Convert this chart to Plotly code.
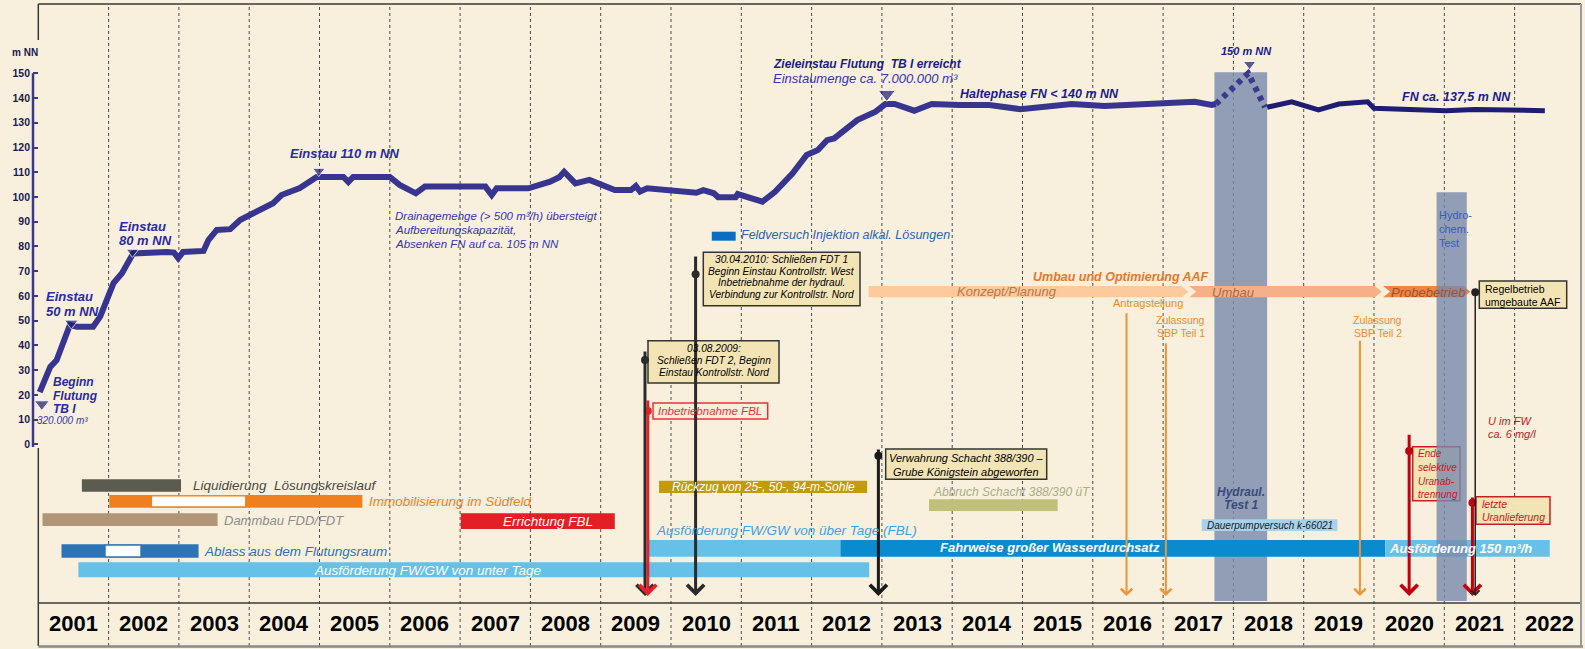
import plotly.graph_objects as go

# ---------------------------------------------------------------------------
# values (time in decimal years, level in m NN)
# ---------------------------------------------------------------------------
years = list(range(2001, 2023))
level_ticks = list(range(0, 151, 10))

# flooding level, Jan 2001 .. start of hydraulic test 1
level_t = [2001.02, 2001.17, 2001.26, 2001.45, 2001.55, 2001.78, 2001.88, 2001.97, 2002.07, 2002.19,
           2002.26, 2002.35, 2002.83, 2002.93, 2002.99, 2003.06, 2003.35, 2003.42, 2003.54, 2003.73,
           2003.87, 2004.06, 2004.34, 2004.46, 2004.72, 2004.96, 2005.34, 2005.41, 2005.48, 2006.00,
           2006.14, 2006.37, 2006.50, 2007.36, 2007.45, 2007.52, 2007.97, 2008.28, 2008.41, 2008.48,
           2008.64, 2008.74, 2008.84, 2009.20, 2009.43, 2009.50, 2009.56, 2009.66, 2010.36, 2010.46,
           2010.61, 2010.67, 2010.92, 2010.95, 2011.30, 2011.48, 2011.73, 2011.93, 2012.09, 2012.22,
           2012.32, 2012.65, 2012.91, 2013.05, 2013.18, 2013.46, 2013.71, 2014.11, 2014.53, 2014.97,
           2015.70, 2016.17, 2016.99, 2017.45, 2017.69, 2017.75]
level_v = [21.1, 31.3, 34.0, 48.3, 47.5, 47.5, 51.6, 58.4, 65.2, 69.2,
           73.2, 77.2, 77.8, 77.5, 75.3, 77.8, 78.2, 82.6, 86.7, 87.0,
           90.7, 93.5, 97.5, 100.8, 103.6, 108.1, 108.1, 106.1, 108.1, 108.1,
           104.9, 101.5, 104.2, 104.2, 100.8, 103.5, 103.5, 106.2, 108.0, 110.2,
           105.5, 106.2, 106.9, 102.8, 102.8, 104.4, 102.2, 103.5, 101.7, 102.8,
           101.5, 99.9, 99.9, 101.2, 98.1, 102.1, 109.6, 117.0, 119.0, 123.0,
           123.7, 131.1, 134.5, 137.6, 137.6, 134.9, 137.6, 137.2, 137.2, 135.5,
           137.6, 136.8, 137.9, 138.5, 137.2, 137.6]

# hydraulic test 1 (dotted, up to 150 m NN)
test_t = [2017.75, 2018.21, 2018.45]
test_v = [137.6, 150.0, 136.3]

# after the test: FN ca. 137,5 m NN
late_t = [2018.48, 2018.83, 2019.21, 2019.50, 2019.91, 2020.00, 2021.02, 2021.43, 2022.43]
late_v = [136.3, 138.5, 135.2, 137.6, 138.5, 135.9, 134.9, 135.4, 134.9]

# milestones on the curve (triangles)
mile_t = [2001.05, 2001.47, 2002.34, 2004.99, 2013.07, 2018.23]
mile_v = [16.3, 49.0, 77.8, 110.5, 141.6, 153.7]

# measures (start / end)
bar_names = ["Liquidierung", "Immobilisierung", "Dammbau", "Errichtung FBL", "Ablass",
             "Ausförderung unter Tage", "Rückzug", "Abbruch", "Ausförderung über Tage",
             "Fahrweise", "Ausförderung 150", "Dauerpumpversuch", "Feldversuch"]
bar_start = [2001.62, 2002.01, 2001.06, 2007.01, 2001.33, 2001.57, 2009.83, 2013.67, 2009.68,
             2012.41, 2020.16, 2017.55, 2010.58]
bar_end = [2003.03, 2005.61, 2003.55, 2009.20, 2003.28, 2012.82, 2012.79, 2015.50, 2012.41,
           2020.16, 2022.50, 2019.48, 2010.92]

# interruptions drawn hollow
gap_names = ["Immobilisierung", "Ablass"]
gap_start = [2002.61, 2001.95]
gap_end = [2003.95, 2002.46]

# phases "Umbau und Optimierung AAF"
phase_names = ["Konzept/Planung", "Umbau", "Probebetrieb"]
phase_start = [2012.81, 2017.37, 2020.13]
phase_end = [2017.36, 2020.11, 2021.37]

# test periods (shaded columns)
test_names = ["Hydraul. Test 1", "Hydrochem. Test"]
test_start = [2017.73, 2020.89]
test_end = [2018.48, 2021.32]

# single events (vertical arrows)
event_names = ["03.08.2009", "Inbetriebnahme FBL", "30.04.2010", "Verwahrung Schacht",
               "Antragstellung", "Zulassung SBP Teil 1", "Zulassung SBP Teil 2",
               "Ende selektive Uranabtrennung", "letzte Uranlieferung", "Regelbetrieb"]
event_t = [2009.63, 2009.67, 2010.35, 2012.95, 2016.48, 2017.04, 2019.80, 2020.50, 2021.40, 2021.44]

# ---------------------------------------------------------------------------
# layout helpers: the lower part of the chart is a free layout measured in px
# ---------------------------------------------------------------------------
W, H, L = 1585, 649, 33
X0, KX = 38.3, 70.3      # px of 1.1.2001, px per year
Y0, KY = 444.3, 2.473    # px of 0 m NN, px per metre

def xp(px):
    return 2001 + (px - X0) / KX

def yp(py):
    return (Y0 - py) / KY

BG = "#F8F0DD"
SANS = "Liberation Sans, Arial, sans-serif"
NAVY = "#1A1A52"
BLUE = "#2A2AA2"
BLUE2 = "#3535AE"
ORANGE = "#EE8A2E"
RED = "#D0141E"

shapes = []
ann = []

def rect(x0, x1, py0, py1, fill, line=None, lw=0, layer="below", opacity=1.0):
    shapes.append(dict(type="rect", xref="x", yref="y", x0=x0, x1=x1, y0=yp(py1), y1=yp(py0),
                       fillcolor=fill, line=dict(width=lw, color=line or fill),
                       layer=layer, opacity=opacity))

def hline(px0, px1, py, color, w):
    shapes.append(dict(type="line", xref="x", yref="y", x0=xp(px0), x1=xp(px1), y0=yp(py), y1=yp(py),
                       line=dict(color=color, width=w), layer="below"))

def vline(px, py0, py1, color, w):
    shapes.append(dict(type="line", xref="x", yref="y", x0=xp(px), x1=xp(px), y0=yp(py0), y1=yp(py1),
                       line=dict(color=color, width=w), layer="below"))

def label(px, py, text, size, color, anchor="left", bold=False, italic=True):
    ann.append(dict(x=xp(px), y=yp(py), xref="x", yref="y", text=text, showarrow=False,
                    xanchor=anchor, yanchor="middle",
                    font=dict(family=SANS, size=size, color=color,
                              weight="bold" if bold else "normal",
                              style="italic" if italic else "normal")))

# year grid
for y in years[1:]:
    shapes.append(dict(type="line", xref="x", yref="y", x0=y, x1=y, y0=yp(646), y1=yp(4),
                       line=dict(color="#4A4A4A", width=1, dash="dot"), layer="below"))

# hydraulic test 1 column (under the level curve)
rect(test_start[0], test_end[0], 72.3, 601, "rgb(120,138,172)", opacity=0.8)

# measures
bar_style = {
    "Liquidierung": ((479.3, 491.7), "#5B5B50"),
    "Immobilisierung": ((495.0, 507.7), "#F0801E"),
    "Dammbau": ((513.3, 526.0), "#B09676"),
    "Errichtung FBL": ((513.3, 529.0), "#E31E24"),
    "Ablass": ((544.3, 557.7), "#2E74B5"),
    "Ausförderung unter Tage": ((562.3, 577.3), "#66C1E9"),
    "Rückzug": ((480.7, 493.0), "#C39A0A"),
    "Abbruch": ((499.3, 511.0), "#BEC17A"),
    "Ausförderung über Tage": ((540.0, 556.7), "#66C1E9"),
    "Fahrweise": ((540.0, 556.7), "#0A8BD0"),
    "Ausförderung 150": ((540.0, 556.7), "#66C1E9"),
    "Dauerpumpversuch": ((519.3, 531.0), "#A6D2EE"),
    "Feldversuch": ((231.7, 240.7), "#0A6FC2"),
}
for name, s, e in zip(bar_names, bar_start, bar_end):
    (r0, r1), c = bar_style[name]
    rect(s, e, r0, r1, c)
for name, s, e in zip(gap_names, gap_start, gap_end):
    (r0, r1), c = bar_style[name]
    rect(s, e, r0 + 0.8, r1 - 0.8, "white", line=c, lw=1.2)

# phases as chevrons
phase_color = ["#FDCA9C", "#F6B088", "#F08444"]
tip = 7 / KX
top_, bot_ = yp(286.0), yp(297.3)
mid_ = (top_ + bot_) / 2
for i, (s, e) in enumerate(zip(phase_start, phase_end)):
    notch = f" L {s + tip},{mid_}" if i else ""
    path = (f"M {s},{top_} L {e - tip},{top_} L {e},{mid_} L {e - tip},{bot_} L {s},{bot_}"
            f"{notch} Z")
    shapes.append(dict(type="path", xref="x", yref="y", path=path, fillcolor=phase_color[i],
                       line=dict(width=0), layer="below"))

# text boxes
BOX = "#F3E4B6"
rect(xp(703.3), xp(860), 252.3, 305.7, BOX, line="#333333", lw=1.5)
rect(xp(648), xp(779), 340.7, 383, BOX, line="#333333", lw=1.5)
rect(xp(653), xp(767.7), 403, 419, BG, line="#E8303A", lw=1.5)
rect(xp(885.7), xp(1046.7), 449, 479.3, BOX, line="#333333", lw=1.5)
rect(xp(1479.3), xp(1566.7), 281, 308.3, BOX, line="#333333", lw=1.5)
rect(xp(1412.7), xp(1460), 446.7, 500.7, BOX, line="#C82020", lw=1.5)
rect(xp(1476), xp(1550), 496.7, 524.3, BOX, line="#C82020", lw=1.5)

# frame
hline(38.3, 1581, 4, "#3A3A3A", 1.5)
vline(38.3, 4, 40, "#3A3A3A", 1.5)
vline(38.3, 448, 646, "#3A3A3A", 1.5)
hline(38.3, 1581, 603, "#3A3A3A", 1.5)
hline(38.3, 1583, 646.5, "#8A8A8A", 2.5)
vline(1581, 4, 646, "#9A9A9A", 2)

# y axis line (0..150 m NN)
shapes.append(dict(type="line", xref="paper", yref="y", x0=0, x1=0, y0=yp(447), y1=150,
                   line=dict(color="#3B3A80", width=2.5)))

# hydrochemical test column (on top of the bars)
rect(test_start[1], test_end[1], 192.3, 601, "rgb(120,138,172)", layer="above", opacity=0.8)

# ---------------------------------------------------------------------------
fig = go.Figure()
fig.add_trace(go.Scatter(x=level_t, y=level_v, mode="lines",
                         line=dict(color="#383591", width=6), hoverinfo="skip"))
fig.add_trace(go.Scatter(x=test_t, y=test_v, mode="lines",
                         line=dict(color="#3A3890", width=6, dash="5px,5px"), hoverinfo="skip"))
fig.add_trace(go.Scatter(x=late_t, y=late_v, mode="lines",
                         line=dict(color="#1F1D72", width=5), hoverinfo="skip"))
fig.add_trace(go.Scatter(x=mile_t, y=mile_v, mode="markers",
                         marker=dict(symbol="triangle-down", size=[13, 12, 11, 11, 15, 11],
                                     color="#191970"), hoverinfo="skip"))

# events: line + arrow head at the bottom, optional dot
event_style = [  # top px, dot px, colour, width
    (350, 360, "#2B2B2B", 3), (399, 411, "#E8202A", 3), (255, 274.3, "#2B2B2B", 3),
    (448, 455.7, "#1A1A1A", 3), (311.7, None, "#F39233", 2), (341.7, None, "#F39233", 2),
    (339.3, None, "#F39233", 2), (433.3, 451, "#C00010", 3), (496, 502.7, "#C00010", 3),
    (292.3, 292.3, "#222222", 1.5),
]
dot_x, dot_y, dot_c = [], [], []
for t, (top, dot, c, w) in zip(event_t, event_style):
    ann.append(dict(x=t, y=yp(596), ax=t, ay=yp(top), xref="x", yref="y", axref="x", ayref="y",
                    text="", showarrow=True, arrowhead=4, arrowsize=1.1, arrowwidth=w,
                    arrowcolor=c, standoff=0))
    if dot is not None:
        dot_x.append(t)
        dot_y.append(yp(dot))
        dot_c.append(c)
fig.add_trace(go.Scatter(x=dot_x, y=dot_y, mode="markers",
                         marker=dict(size=8, color=dot_c), hoverinfo="skip"))

# ---------------------------------------------------------------------------
# texts
ann.append(dict(x=(25 - L) / (W - L), y=yp(52), xref="paper", yref="y", text="m NN",
                showarrow=False, xanchor="center",
                font=dict(family=SANS, size=10, color=NAVY, weight="bold")))
label(50.7, 381.7, "Beginn", 12, BLUE, bold=True)
label(50.7, 395.7, "Flutung", 12, BLUE, bold=True)
label(50.7, 409.3, "TB I", 12, BLUE, bold=True)
label(35, 420.7, "320.000 m³", 10, BLUE2)
label(44, 296.7, "Einstau", 13, BLUE, bold=True)
label(44, 311, "50 m NN", 13, BLUE, bold=True)
label(116.7, 226, "Einstau", 13, BLUE, bold=True)
label(116.7, 240.7, "80 m NN", 13, BLUE, bold=True)
label(288, 153, "Einstau 110 m NN", 13, BLUE, bold=True)
label(393, 216, "Drainagemenge (> 500 m³/h) übersteigt", 11.5, BLUE2)
label(393, 230, "Aufbereitungskapazität,", 11.5, BLUE2)
label(393, 243.5, "Absenken FN auf ca. 105 m NN", 11.5, BLUE2)
label(771, 64, "Zieleinstau Flutung  TB I erreicht", 12, "#1C1C8C", bold=True)
label(771, 78.5, "Einstaumenge ca. 7.000.000 m³", 13, BLUE2)
label(958, 94, "Haltephase FN < 140 m NN", 12.5, "#1C1C8C", bold=True)
label(1246.5, 51, "150 m NN", 11, "#1C1C8C", anchor="center", bold=True)
label(1400, 97, "FN ca. 137,5 m NN", 12.5, "#1C1C8C", bold=True)

label(739.3, 235, "Feldversuch Injektion alkal. Lösungen", 12.5, "#2F62B0")
label(1031, 276.5, "Umbau und Optimierung AAF", 12.5, "#E5772E", bold=True)
label(1007, 291, "Konzept/Planung", 13, "#B8794A", anchor="center")
label(1233, 292, "Umbau", 13, "#A86A48", anchor="center")
label(1427.5, 292, "Probebetrieb", 13, "#A0522D", anchor="center")
label(1148, 303.3, "Antragstellung", 11, ORANGE, anchor="center", italic=False)
label(1180.8, 320, "Zulassung", 10.5, ORANGE, anchor="center", italic=False)
label(1180.8, 333.3, "SBP Teil 1", 10.5, ORANGE, anchor="center", italic=False)
label(1377.5, 320, "Zulassung", 10.5, ORANGE, anchor="center", italic=False)
label(1377.5, 332.7, "SBP Teil 2", 10.5, ORANGE, anchor="center", italic=False)
label(1436.5, 215, "Hydro-", 11, "#3A5BBE", italic=False)
label(1436.5, 229, "chem.", 11, "#3A5BBE", italic=False)
label(1436.5, 243, "Test", 11, "#3A5BBE", italic=False)
label(1486, 421, "U im FW", 11, RED)
label(1486, 434.3, "ca. 6 mg/l", 11, RED)
label(1241, 491.7, "Hydraul.", 12, "#3C4A7C", anchor="center", bold=True)
label(1241, 505, "Test 1", 12, "#3C4A7C", anchor="center", bold=True)

# boxes
for py, s in [(259, "30.04.2010: Schließen FDT 1"), (271, "Beginn Einstau Kontrollstr. West"),
              (282.7, "Inbetriebnahme der hydraul."), (294, "Verbindung zur Kontrollstr. Nord")]:
    label(781.7, py, s, 10.2, "black", anchor="center")
for py, s in [(348.5, "03.08.2009:"), (360, "Schließen FDT 2, Beginn"),
              (372, "Einstau Kontrollstr. Nord")]:
    label(713.5, py, s, 10.2, "black", anchor="center")
label(710.3, 411, "Inbetriebnahme FBL", 11.5, "#E8303A", anchor="center")
label(966, 457.5, "Verwahrung Schacht 388/390 –", 11, "black", anchor="center")
label(966, 471.5, "Grube Königstein abgeworfen", 11, "black", anchor="center")
label(1483, 288.5, "Regelbetrieb", 10.5, "black", italic=False)
label(1483, 301.5, "umgebaute AAF", 10.5, "black", italic=False)
for py, s in [(453.3, "Ende"), (467, "selektive"), (481, "Uranab-"), (494.5, "trennung")]:
    label(1416, py, s, 10, RED)
label(1479.5, 503.5, "letzte", 10.5, RED)
label(1479.5, 517, "Uranlieferung", 10.5, RED)

# measure labels
label(191, 485.5, "Liquidierung  Lösungskreislauf", 13.5, "#4A4A44")
label(366.5, 501.7, "Immobilisierung im Südfeld", 13.5, "#F07F1E")
label(221.7, 520, "Dammbau FDD/FDT", 13, "#8C8C8C")
label(548, 521, "Errichtung FBL", 13.5, "white", anchor="center")
label(201.7, 551, "Ablass aus dem Flutungsraum", 13.5, "#2E70BF")
label(427, 570, "Ausförderung FW/GW von unter Tage", 13.5, "white", anchor="center")
label(763, 487, "Rückzug von 25-, 50-, 94-m-Sohle", 12, "white", anchor="center")
label(931, 492.3, "Abbruch Schacht 388/390 üT", 12, "#A8AD86")
label(653.6, 530.7, "Ausförderung FW/GW von über Tage (FBL)", 13.5, "#3AA3E0")
label(1050, 547.5, "Fahrweise großer Wasserdurchsatz", 13, "white", anchor="center", bold=True)
label(1460, 548, "Ausförderung 150 m³/h", 13, "white", anchor="center", bold=True)
label(1269.7, 525.2, "Dauerpumpversuch k-66021", 10, "#1A1A1A", anchor="center")

# year row
for y in years:
    ann.append(dict(x=y + 0.5, y=yp(623), xref="x", yref="y", text=str(y), showarrow=False,
                    font=dict(family=SANS, size=22, color="black", weight="bold")))

fig.update_layout(
    width=W, height=H, margin=dict(l=L, r=0, t=0, b=0),
    paper_bgcolor=BG, plot_bgcolor=BG, showlegend=False,
    xaxis=dict(range=[xp(L), xp(W)], visible=False),
    yaxis=dict(range=[yp(H), yp(0)], tickvals=level_ticks, ticks="inside", ticklen=5,
               tickwidth=2, tickcolor="#3B3A80", showgrid=False, zeroline=False, showline=False,
               tickfont=dict(family=SANS, size=10.5, color=NAVY, weight="bold"),
               ticklabelstandoff=2),
    shapes=shapes, annotations=ann,
)

fig.write_html("out.html", config={"displayModeBar": False},
               post_script="document.body.style.margin='0';document.body.style.overflow='hidden';")
